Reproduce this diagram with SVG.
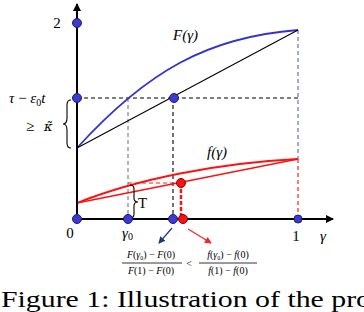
<svg xmlns="http://www.w3.org/2000/svg" width="364" height="312" viewBox="0 0 364 312">
<style>
.ax{stroke:#000;stroke-width:2;fill:none}
.dk{stroke:#000;stroke-width:1.1;stroke-dasharray:4 3;fill:none}
.dg{stroke:#777;stroke-width:1.1;stroke-dasharray:4 3;fill:none}
.db{stroke:#6677aa;stroke-width:1.2;stroke-dasharray:4 3;fill:none}
.dr{stroke:#ff2020;stroke-width:1.2;stroke-dasharray:4 3;fill:none}
.bp{fill:#3b3bd0;stroke:#1c1c70;stroke-width:1}
.rp{fill:#ff1010;stroke:#800000;stroke-width:1}
.m{font-family:"Liberation Serif",serif;font-style:italic;font-size:15px;fill:#000}
.n{font-family:"Liberation Serif",serif;font-size:15px;fill:#000}
.f{font-family:"Liberation Serif",serif;font-size:10px;fill:#000}
</style>
<defs>
<marker id="ah" markerWidth="8" markerHeight="8" refX="7" refY="4" orient="auto" markerUnits="userSpaceOnUse"><path d="M0,0 L8,4 L0,8 z" fill="#000"/></marker>
<marker id="ahb" markerWidth="7" markerHeight="7" refX="6" refY="3.5" orient="auto" markerUnits="userSpaceOnUse"><path d="M0,0 L7,3.5 L0,7 z" fill="#1f3a7a"/></marker>
<marker id="ahr" markerWidth="7" markerHeight="7" refX="6" refY="3.5" orient="auto" markerUnits="userSpaceOnUse"><path d="M0,0 L7,3.5 L0,7 z" fill="#ff2020"/></marker>
</defs>
<g id="connectors">
<path class="dk" d="M77,98 H298"/>
<path class="dg" d="M128,98 V219"/>
<path class="dk" d="M173,98 V219"/>
<path class="db" d="M298,30 V159"/>
<path class="dr" d="M298,159 V219"/>
<path class="dr" d="M128,183 H181"/>
<path d="M181,183 V219" stroke="#ff1010" stroke-width="2.5" stroke-dasharray="4 2" fill="none"/>
<path d="M77,148 C147,71 208,37 298,30" stroke="#3333cc" stroke-width="1.8" fill="none"/>
<path d="M77,148 L298,30" stroke="#000" stroke-width="1.1" fill="none"/>
<path d="M77,203 C137,179 218,163 298,159" stroke="#ff1010" stroke-width="1.8" fill="none"/>
<path d="M77,203 L298,159" stroke="#ff1010" stroke-width="1.3" fill="none"/>
<path class="ax" d="M77,219 V4" marker-end="url(#ah)"/>
<path class="ax" d="M77,219 H333" marker-end="url(#ah)"/>
<path d="M172,228 L159,243" stroke="#1f3a7a" stroke-width="1.2" fill="none" marker-end="url(#ahb)"/>
<path d="M188,229 L211,243" stroke="#ff2020" stroke-width="1.2" fill="none" marker-end="url(#ahr)"/>
<path d="M71,100 Q67,100 67,105 V118 Q67,124 63,124 Q67,124 67,130 V143 Q67,148 71,148" stroke="#000" stroke-width="1.1" fill="none"/>
<path d="M130,185 Q134,185 134,189 V198 Q134,202 138,202 Q134,202 134,206 V214 Q134,218 130,218" stroke="#000" stroke-width="1.1" fill="none"/>
</g>
<g id="points">
<circle class="bp" cx="77" cy="23" r="4.5"/>
<circle class="bp" cx="77" cy="98" r="4.5"/>
<circle class="bp" cx="174" cy="98" r="4.5"/>
<circle class="bp" cx="77" cy="219" r="4.5"/>
<circle class="bp" cx="128" cy="219" r="4.5"/>
<circle class="bp" cx="173" cy="219" r="4.5"/>
<circle class="bp" cx="298" cy="219" r="4"/>
<circle class="rp" cx="183" cy="219" r="4.5"/>
<circle class="rp" cx="181" cy="183" r="4.5"/>
</g>
<g id="labels">
<text class="n" x="57" y="28" text-anchor="middle">2</text>
<text class="m" x="9" y="103">τ <tspan font-style="normal">−</tspan> ε<tspan font-size="10" dy="3" font-style="normal">0</tspan><tspan dy="-3">t</tspan></text>
<text class="n" x="26" y="131" font-size="17">≥</text>
<text x="44" y="131" font-family="'DejaVu Serif',serif" font-style="italic" font-size="13">κ̃</text>
<text class="m" x="173" y="40">F(γ)</text>
<text class="m" x="207" y="157">f(γ)</text>
<text class="n" x="138" y="208" font-size="16">T</text>
<text class="n" x="70" y="238" text-anchor="middle">0</text>
<text class="m" x="122" y="238">γ<tspan font-size="10" dy="2" font-style="normal">0</tspan></text>
<text class="n" x="296" y="241" text-anchor="middle">1</text>
<text class="m" x="323" y="241" text-anchor="middle">γ</text>
</g>
<g id="formula">
<text class="f" x="151" y="258" text-anchor="middle"><tspan font-style="italic">F</tspan>(<tspan font-style="italic">γ</tspan><tspan font-size="6" dy="1.5">0</tspan><tspan dy="-1.5">) − </tspan><tspan font-style="italic">F</tspan>(0)</text>
<path d="M122,263 H182" stroke="#000" stroke-width="0.8"/>
<text class="f" x="151" y="274" text-anchor="middle"><tspan font-style="italic">F</tspan>(1) − <tspan font-style="italic">F</tspan>(0)</text>
<text class="f" x="189" y="267" text-anchor="middle">&lt;</text>
<text class="f" x="228" y="258" text-anchor="middle"><tspan font-style="italic">f</tspan>(<tspan font-style="italic">γ</tspan><tspan font-size="6" dy="1.5">0</tspan><tspan dy="-1.5">) − </tspan><tspan font-style="italic">f</tspan>(0)</text>
<path d="M199,263 H257" stroke="#000" stroke-width="0.8"/>
<text class="f" x="228" y="274" text-anchor="middle"><tspan font-style="italic">f</tspan>(1) − <tspan font-style="italic">f</tspan>(0)</text>
</g>
<text x="1" y="307" font-family="'Liberation Serif',serif" font-size="23" fill="#000" textLength="370" lengthAdjust="spacingAndGlyphs">Figure 1: Illustration of the pro</text>
</svg>
